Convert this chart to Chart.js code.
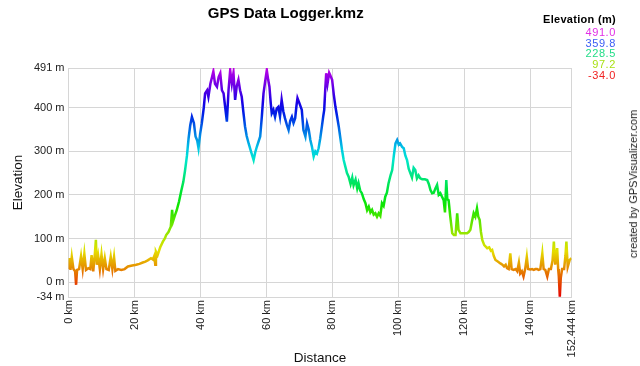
<!DOCTYPE html>
<html lang="en">
<head>
<meta charset="UTF-8">
<title>GPS Data Logger.kmz</title>
<style>
  body { margin: 0; background: #ffffff; font-family: Arial, "Liberation Sans", sans-serif; }
  .wrap { position: relative; width: 640px; height: 366px; }
  .legend { position: absolute; right: 24px; top: 14px; text-align: right; font-size: 11px; line-height: 10.8px; letter-spacing: 0.6px; }
  .legend .head { font-weight: bold; color: #000; margin-bottom: 2px; letter-spacing: 0.3px; }
  .credit {
      position: absolute; left: 633px; top: 184px;
      transform: translate(-50%, -50%) rotate(-90deg);
      white-space: nowrap; font-size: 11px; color: #222;
  }
</style>
<script src="https://cdn.jsdelivr.net/npm/chart.js"></script>
</head>
<body>

<div class="wrap">
  <canvas id="elevationChart" width="640" height="366"></canvas>
  <div class="legend">
    <div class="head">Elevation (m)</div>
    <div style="color:#e22ee6">491.0</div>
    <div style="color:#3a5cf5">359.8</div>
    <div style="color:#22dd88">228.5</div>
    <div style="color:#a8e012">97.2</div>
    <div style="color:#f02222">-34.0</div>
  </div>
  <div class="credit">created by GPSVisualizer.com</div>
</div>

<script>
// distance along track (km) and elevation (m)
const distKm = [
  0.0, 0.3, 0.6, 1.0, 1.5, 2.0, 2.3, 2.6, 3.2, 3.8, 4.3, 4.8, 5.3, 6.0, 6.6, 7.0, 7.5, 8.0, 8.3, 8.6,
  9.0, 9.5, 10.0, 10.5, 11.0, 11.5, 12.2, 12.8, 13.3, 13.8, 14.2, 15.0, 16.0, 17.0, 18.0, 19.3, 20.5, 21.5, 22.5, 23.3,
  24.0, 25.0, 25.6, 26.0, 26.3, 26.5, 27.0, 27.8, 28.6, 29.2, 29.6, 30.3, 31.0, 31.4, 31.7, 32.2, 32.8, 33.5, 34.2, 34.8,
  35.3, 35.9, 36.4, 36.9, 37.4, 38.0, 38.5, 39.0, 39.4, 39.9, 40.4, 41.0, 41.4, 42.0, 42.4, 43.0, 43.5, 43.9, 44.4, 45.0,
  45.5, 46.0, 46.5, 47.0, 47.5, 48.0, 48.5, 49.0, 49.5, 50.0, 50.5, 51.0, 51.5, 52.0, 52.5, 53.0, 53.5, 54.0, 54.6, 55.3,
  56.1, 56.6, 57.1, 58.1, 58.6, 59.1, 59.6, 60.1, 60.5, 60.9, 61.3, 61.6, 62.1, 62.6, 63.1, 63.6, 64.1, 64.6, 65.1, 65.6,
  66.2, 66.7, 67.2, 67.7, 68.2, 68.7, 69.1, 69.4, 70.0, 70.7, 71.2, 71.8, 72.3, 72.8, 73.3, 73.8, 74.3, 74.8, 75.3, 75.8,
  76.3, 76.8, 77.2, 77.5, 77.8, 78.1, 78.5, 79.0, 79.3, 79.9, 80.4, 80.9, 81.4, 81.9, 82.4, 82.9, 83.4, 83.9, 84.4, 84.9,
  85.5, 86.0, 86.4, 87.0, 87.5, 87.9, 88.4, 88.9, 89.5, 90.0, 90.5, 91.0, 91.5, 92.0, 92.5, 93.0, 93.5, 94.0, 94.5, 95.0,
  95.5, 96.0, 96.5, 97.0, 97.6, 98.1, 98.6, 99.1, 99.6, 100.1, 100.5, 101.1, 101.6, 102.1, 102.6, 103.1, 103.6, 104.1, 104.6, 105.1,
  105.6, 106.1, 106.6, 107.2, 108.0, 108.7, 109.2, 109.7, 110.2, 110.7, 111.2, 111.7, 112.2, 112.7, 113.2, 113.7, 114.1, 114.5, 114.8, 115.2,
  115.7, 116.3, 116.8, 117.3, 117.8, 118.2, 118.8, 119.8, 120.8, 121.3, 121.8, 122.3, 122.8, 123.3, 123.8, 124.2, 124.6, 125.0, 125.4, 126.0,
  126.9, 127.5, 128.0, 128.4, 128.9, 129.4, 130.0, 130.9, 131.5, 132.0, 132.5, 132.9, 133.4, 133.9, 134.3, 134.9, 135.5, 136.0, 136.5, 136.9,
  137.4, 137.9, 138.4, 138.9, 139.3, 139.9, 140.5, 141.0, 141.5, 142.0, 142.5, 143.0, 143.6, 144.0, 144.5, 145.1, 145.6, 146.2, 146.7, 147.1,
  147.5, 148.1, 148.4, 148.6, 148.9, 149.2, 149.6, 150.2, 150.6, 150.9, 151.3, 151.9, 152.444
];
const elevM = [
  30, 55, 28, 58, 30, 25, -6, 28, 30, 60, 30, 65, 28, 32, 30, 62, 25, 66, 97, 40,
  60, 30, 64, 30, 55, 30, 28, 58, 30, 58, 26, 30, 28, 30, 36, 38, 40, 42, 45, 47,
  50, 55, 52, 60, 40, 70, 62, 80, 93, 100, 108, 115, 127, 166, 140, 152, 165, 185, 210, 230,
  255, 290, 330, 360, 379, 365, 334, 325, 307, 340, 364, 400, 433, 440, 425, 455, 470, 483, 455, 448,
  470, 479, 440, 433, 400, 368, 440, 486, 455, 480, 418, 450, 464, 440, 425, 390, 357, 335, 318, 300,
  280, 298, 311, 334, 380, 433, 460, 486, 465, 448, 410, 387, 395, 379, 398, 402, 380, 418, 392, 376,
  360, 349, 370, 379, 365, 376, 405, 422, 410, 395, 349, 334, 364, 350, 326, 310, 288, 300, 295, 307,
  330, 357, 380, 395, 440, 479, 455, 480, 475, 464, 430, 402, 380, 357, 330, 303, 280, 265, 250, 242,
  225, 240, 222, 235, 215, 227, 210, 204, 190, 181, 165, 173, 160, 166, 155, 158, 150, 158, 152, 181,
  175, 196, 205, 227, 245, 257, 290, 318, 326, 315, 318, 310, 307, 290, 280, 260, 250, 240, 262, 257,
  238, 245, 238, 236, 236, 234, 225, 211, 204, 205, 215, 223, 200, 204, 196, 188, 160, 234, 190, 188,
  150, 112, 108, 108, 158, 120, 112, 112, 112, 115, 120, 140, 158, 150, 169, 150, 143, 115, 97, 85,
  78, 80, 72, 74, 60, 51, 48, 43, 40, 36, 40, 32, 30, 66, 30, 28, 30, 25, 45, 20,
  25, 13, 30, 58, 30, 29, 30, 28, 30, 30, 28, 30, 66, 30, 28, 13, 30, 30, 50, 93,
  40, 78, 30, 13, -33, 10, 30, 30, 60, 93, 35, 51, 55
];

const yMin = -34;
const yMax = 491;
const yTicks = [-34, 0, 100, 200, 300, 400, 491];
const xMax = 152.444;
const xTicks = [0, 20, 40, 60, 80, 100, 120, 140, 152.444];
const xTickLabels = ['0 km', '20 km', '40 km', '60 km', '80 km', '100 km', '120 km', '140 km', '152.444 km'];

// colour the line by elevation: red at the bottom, magenta at the top
function elevGradient(context) {
  const chart = context.chart;
  if (!chart.chartArea) return '#e08000';
  const y = chart.scales.y;
  const g = chart.ctx.createLinearGradient(0, y.getPixelForValue(yMin), 0, y.getPixelForValue(yMax));
  for (let i = 0; i <= 20; i++) {
    const f = i / 20;
    g.addColorStop(f, 'hsl(' + (f * 290) + ', 100%, 45%)');
  }
  return g;
}

const points = distKm.map((d, i) => ({ x: d, y: elevM[i] }));
const gridColor = '#d6d6d6';
const tickFont = { family: 'Arial, "Liberation Sans", sans-serif', size: 11 };
const titleFont = { family: 'Arial, "Liberation Sans", sans-serif', size: 13.5 };

new Chart(document.getElementById('elevationChart'), {
  type: 'line',
  data: {
    datasets: [{
      data: points,
      borderColor: elevGradient,
      borderWidth: 2.5,
      pointRadius: 0,
      tension: 0,
      fill: false
    }]
  },
  options: {
    responsive: false,
    animation: false,
    events: [],
    layout: { padding: { left: 0, right: 68.5, top: 0, bottom: 0 } },
    plugins: {
      legend: { display: false },
      tooltip: { enabled: false },
      title: {
        display: true,
        text: 'GPS Data Logger.kmz',
        color: '#000',
        font: { family: 'Arial, "Liberation Sans", sans-serif', size: 15, weight: 'bold' },
        padding: { top: 5, bottom: 45 }
      }
    },
    scales: {
      x: {
        type: 'linear',
        min: 0,
        max: xMax,
        afterBuildTicks: scale => { scale.ticks = xTicks.map(v => ({ value: v })); },
        afterFit: scale => { scale.height = 69; },
        ticks: {
          autoSkip: false,
          minRotation: 90,
          maxRotation: 90,
          padding: 3,
          color: '#222',
          font: tickFont,
          callback: (v) => xTickLabels[xTicks.indexOf(v)]
        },
        grid: { color: gridColor, drawTicks: false },
        border: { color: gridColor },
        title: { display: true, text: 'Distance', color: '#111', font: titleFont, padding: { top: 0, bottom: 0 } }
      },
      y: {
        min: yMin,
        max: yMax,
        afterBuildTicks: scale => { scale.ticks = yTicks.map(v => ({ value: v })); },
        afterFit: scale => { scale.width = 68.5; },
        ticks: {
          padding: 4,
          color: '#222',
          font: tickFont,
          callback: (v) => v + ' m'
        },
        grid: { color: gridColor, drawTicks: false },
        border: { color: gridColor },
        title: { display: true, text: 'Elevation', color: '#111', font: titleFont, padding: { top: 10, bottom: 0 } }
      }
    }
  }
});
</script>

</body>
</html>
